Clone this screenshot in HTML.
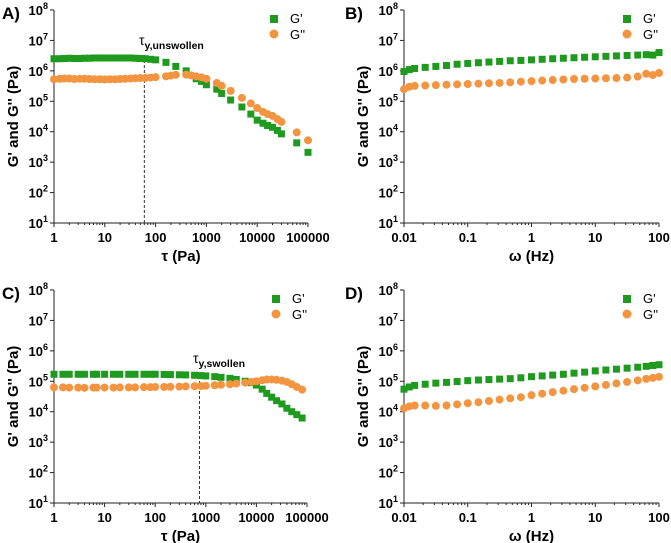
<!DOCTYPE html>
<html><head><meta charset="utf-8"><style>
html,body{margin:0;padding:0;background:#fff;}
svg{display:block;font-family:"Liberation Sans",Arial,sans-serif;}
</style></head><body>
<svg id="fig" width="671" height="543" viewBox="0 0 671 543"></svg>
<script>
// ---- data ----
const aX  = [1,1.3,1.6,2,2.5,3.2,4,5,6.3,8,10,12.6,16,20,25,32,40,50,63,80,100,160,250,400,630,800,1000,1600,2000,3000,5000,7500,10000,13000,16000,20000,25000,30000,60000,100000];
const aGp = [2.5e6,2.5e6,2.55e6,2.6e6,2.55e6,2.55e6,2.6e6,2.6e6,2.65e6,2.65e6,2.65e6,2.65e6,2.65e6,2.65e6,2.65e6,2.65e6,2.6e6,2.55e6,2.5e6,2.4e6,2.3e6,1.9e6,1.4e6,1.0e6,5.5e5,4.5e5,3.5e5,2.5e5,1.8e5,1.1e5,6.5e4,3.8e4,2.4e4,1.9e4,1.6e4,1.4e4,1.1e4,8.5e3,4.3e3,2.1e3];
const aX2 = [1,1.3,1.6,2,2.5,3.2,4,5,6.3,8,10,12.6,16,20,25,32,40,50,63,80,100,160,200,250,400,500,630,800,1000,1600,2000,3000,5000,7500,10000,13000,16000,20000,25000,30000,60000,100000];
const aGpp= [5.3e5,5.5e5,5.6e5,5.6e5,5.4e5,5.5e5,5.5e5,5.4e5,5.3e5,5.3e5,5.2e5,5.3e5,5.3e5,5.4e5,5.5e5,5.6e5,5.7e5,5.8e5,5.9e5,6e5,6.2e5,6.6e5,7e5,7.4e5,7.5e5,7.1e5,6.6e5,6.1e5,5.5e5,4e5,3.2e5,2.2e5,1.3e5,8.5e4,6e4,4.5e4,3.8e4,3.3e4,2.6e4,2.1e4,9.5e3,5.2e3];
const cX  = [1,1.5,2,3,4,6,7,10,15,20,30,40,60,80,100,150,200,300,400,600,800,1000,1500,2000,3000,4000,6000,8000,10000,13000,16000,20000,25000,32000,40000,50000,63000,80000];
const cGp = [1.7e5,1.7e5,1.7e5,1.7e5,1.7e5,1.7e5,1.7e5,1.7e5,1.7e5,1.7e5,1.7e5,1.7e5,1.7e5,1.7e5,1.7e5,1.68e5,1.66e5,1.64e5,1.62e5,1.58e5,1.54e5,1.5e5,1.42e5,1.35e5,1.25e5,1.15e5,1.0e5,9e4,7.5e4,5.5e4,4e4,3e4,2.3e4,1.8e4,1.3e4,1e4,8e3,6.2e3];
const cGpp= [6.3e4,6.3e4,6.2e4,6.2e4,6.1e4,6.2e4,6.2e4,6.2e4,6.2e4,6.3e4,6.3e4,6.3e4,6.4e4,6.4e4,6.5e4,6.5e4,6.6e4,6.7e4,6.8e4,6.9e4,7e4,7.1e4,7.4e4,7.7e4,8e4,8.4e4,9e4,9.5e4,1.0e5,1.08e5,1.14e5,1.15e5,1.12e5,1.05e5,9.5e4,8e4,6.5e4,5.3e4];
const bdX = [0.01,0.0121,0.0147,0.0215,0.0316,0.0464,0.0681,0.1,0.147,0.215,0.316,0.464,0.681,1,1.47,2.15,3.16,4.64,6.81,10,14.7,21.5,31.6,46.4,63,80,100];
const bGp = [9.5e5,1.1e6,1.2e6,1.3e6,1.4e6,1.5e6,1.65e6,1.75e6,1.85e6,1.95e6,2.05e6,2.15e6,2.2e6,2.3e6,2.4e6,2.5e6,2.6e6,2.7e6,2.8e6,2.9e6,3.0e6,3.1e6,3.2e6,3.3e6,3.4e6,3.3e6,4.0e6];
const bGpp= [2.5e5,3.0e5,3.2e5,3.3e5,3.4e5,3.5e5,3.6e5,3.7e5,3.8e5,3.9e5,4.0e5,4.2e5,4.4e5,4.6e5,4.8e5,5.0e5,5.2e5,5.4e5,5.5e5,5.6e5,5.7e5,5.8e5,6.0e5,6.5e5,8.0e5,7.3e5,8.5e5];
const dGp = [5.5e4,6.5e4,7.3e4,8e4,8.7e4,9.2e4,9.8e4,1.05e5,1.1e5,1.14e5,1.18e5,1.22e5,1.3e5,1.42e5,1.5e5,1.6e5,1.7e5,1.85e5,2.0e5,2.2e5,2.35e5,2.5e5,2.7e5,2.9e5,3.1e5,3.3e5,3.5e5];
const dGpp= [1.3e4,1.5e4,1.6e4,1.6e4,1.55e4,1.6e4,1.75e4,1.9e4,2.05e4,2.25e4,2.5e4,2.75e4,3.0e4,3.5e4,3.9e4,4.4e4,4.9e4,5.5e4,6.1e4,6.8e4,7.6e4,8.5e4,9.5e4,1.07e5,1.2e5,1.3e5,1.4e5];
const yTickExp = [1,2,3,4,5,6,7,8];
const tauTicks = ["1","10","100","1000","10000","100000"];
const omegaTicks = ["0.01","0.1","1","10","100"];

const NS="http://www.w3.org/2000/svg";
const svg=document.getElementById('fig');
function mk(tag,attrs,parent){const e=document.createElementNS(NS,tag);for(const k in attrs)e.setAttribute(k,attrs[k]);(parent||svg).appendChild(e);return e;}

function panel(o){
  const g=mk('g',{});
  
  
  const L=o.l,R=o.r,T=o.t,B=o.b;
  const xs=v=>L+(Math.log10(v)-o.xmin)/(o.xmax-o.xmin)*(R-L);
  const ys=v=>B-(Math.log10(v)-1)/7*(B-T);
  const pl=mk('text',{x:o.lx,y:T+9,'font-size':17,'font-weight':'bold'},g);pl.textContent=o.letter+')';
  
  
  const ax=mk('path',{d:`M${L},${T}V${B}H${R}`,stroke:'#222',fill:'none','stroke-width':1},g);
  
  
  yTickExp.forEach(e=>{
    const y=ys(Math.pow(10,e));
    mk('line',{x1:L-4,x2:L,y1:y,y2:y,stroke:'#222'},g);
    const t=mk('text',{x:L-6,y:y+5,'font-size':13,'font-weight':'bold','text-anchor':'end'},g);
    
    
    const a=mk('tspan',{},t);a.textContent='10';
    const s=mk('tspan',{dy:-6,'font-size':9},t);s.textContent=String(e);
  });
  o.xticks.forEach((lab,i)=>{
    const v=Math.pow(10,o.xmin+i);const x=xs(v);
    mk('line',{x1:x,x2:x,y1:B,y2:B+4,stroke:'#222'},g);
    if(i<o.xticks.length-1)for(let m=2;m<10;m++){const xx=xs(m*v);mk('line',{x1:xx,x2:xx,y1:B,y2:B+2,stroke:'#222'},g);}
    const t=mk('text',{x:x,y:B+19,'font-size':13,'font-weight':'bold','text-anchor':'middle'},g);t.textContent=lab;
    
    
  });
  const yt=mk('text',{x:0,y:0,'font-size':15,'font-weight':'bold','text-anchor':'middle',transform:`translate(${L-36},${(T+B)/2}) rotate(-90)`},g);
  yt.textContent="G' and G'' (Pa)";
  
  
  const xt=mk('text',{x:(L+R)/2,y:B+38,'font-size':15,'font-weight':'bold','text-anchor':'middle'},g);
  xt.textContent=o.xtitle;
  
  
  if(o.ann){
    const x=xs(o.ann.x);
    const dl=mk('line',{x1:x,x2:x,y1:o.ann.top,y2:B,stroke:'#333','stroke-dasharray':'3,2'},g);
    
    
    const at=mk('text',{x:o.ann.tx,y:o.ann.ty,'font-size':14},g);
    at.textContent='τ';
    
    
    const sb=mk('tspan',{dy:4,'font-size':10.5,'font-weight':'bold'},at);sb.textContent=o.ann.sub;
  }
  const sg=mk('g',{},g);
  
  
  o.gpX.forEach((v,i)=>{mk('rect',{x:xs(v)-3.5,y:ys(o.gp[i])-3.5,width:7,height:7,fill:'#1e9a1e'},sg);});
  const cg=mk('g',{},g);
  
  
  o.gppX.forEach((v,i)=>{mk('circle',{cx:xs(v),cy:ys(o.gpp[i]),r:4,fill:'#f39540'},cg);});
  const lg=mk('g',{},g);
  
  
  mk('rect',{x:o.legx-4,y:T+5,width:8,height:8,fill:'#1e9a1e'},lg);
  mk('circle',{cx:o.legx,cy:T+24,r:4.5,fill:'#f39540'},lg);
  const l1=mk('text',{x:o.legx+16,y:T+13,'font-size':13},lg);l1.textContent="G'";
  const l2=mk('text',{x:o.legx+16,y:T+29,'font-size':13},lg);l2.textContent="G''";
}
panel({letter:'A',lx:2,l:54,r:308,t:10,b:223,xmin:0,xmax:5,xticks:tauTicks,xtitle:'τ (Pa)',gpX:aX,gp:aGp,gppX:aX2,gpp:aGpp,legx:274,
  ann:{x:60,top:55,tx:139,ty:45,sub:'y,unswollen'}});
panel({letter:'B',lx:345,l:404,r:659,t:10,b:223,xmin:-2,xmax:2,xticks:omegaTicks,xtitle:'ω (Hz)',gpX:bdX,gp:bGp,gppX:bdX,gpp:bGpp,legx:627});
panel({letter:'C',lx:2,l:54,r:307,t:290,b:503,xmin:0,xmax:5,xticks:tauTicks,xtitle:'τ (Pa)',gpX:cX,gp:cGp,gppX:cX,gpp:cGpp,legx:276,
  ann:{x:750,top:376,tx:193,ty:363,sub:'y,swollen'}});
panel({letter:'D',lx:345,l:404,r:659,t:290,b:503,xmin:-2,xmax:2,xticks:omegaTicks,xtitle:'ω (Hz)',gpX:bdX,gp:dGp,gppX:bdX,gpp:dGpp,legx:627});
</script>
</body></html>
